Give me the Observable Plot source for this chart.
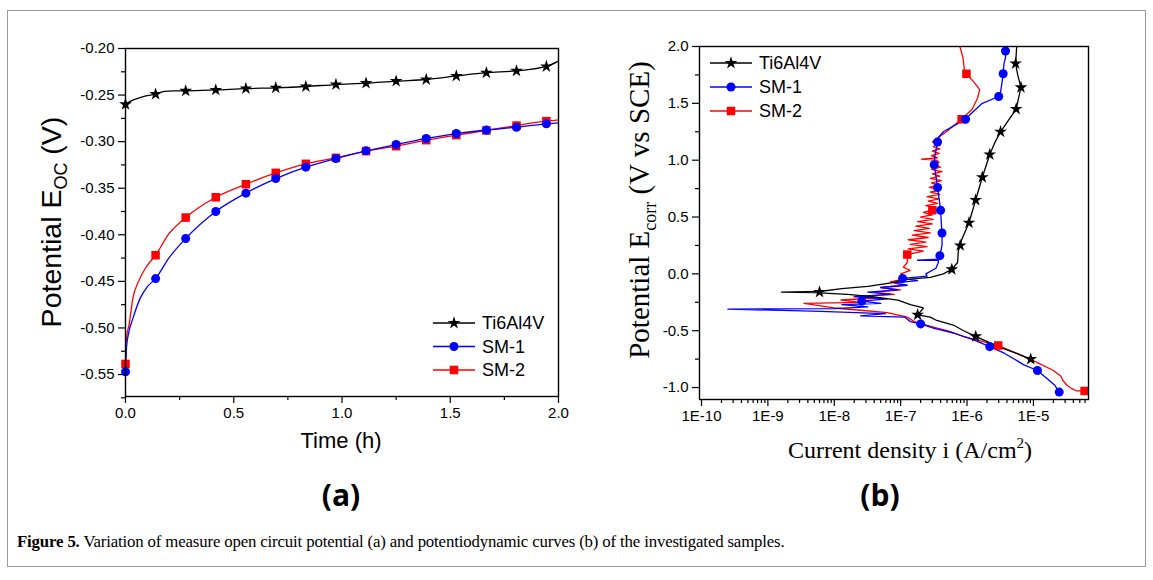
<!DOCTYPE html>
<html><head><meta charset="utf-8">
<script src="https://cdn.jsdelivr.net/npm/d3@7"></script>
<script src="https://cdn.jsdelivr.net/npm/@observablehq/plot@0.6"></script>
<style>
body{margin:0;background:#fff;}
#fig{position:relative;width:1153px;height:580px;background:#fff;overflow:hidden;}
#frame{position:absolute;left:7px;top:10px;width:1139px;height:557px;border:1.5px solid #9a9a9a;box-sizing:border-box;z-index:5;pointer-events:none;}
.panel{position:absolute;top:0;}
.tag{position:absolute;font-family:"Open Sans","Liberation Sans",sans-serif;font-weight:bold;font-size:30px;transform:translateX(-50%);}
#cap{position:absolute;left:17px;top:532px;font-family:"Liberation Serif","DejaVu Serif",serif;font-size:16.8px;letter-spacing:-0.15px;}
</style></head>
<body><div id="fig">
<div class="panel" id="pa" style="left:0"></div>
<div class="panel" id="pb" style="left:580px"></div>
<div class="tag" style="left:341px;top:474px">(a)</div>
<div class="tag" style="left:880px;top:474px">(b)</div>
<div id="cap"><b>Figure 5.</b> Variation of measure open circuit potential (a) and potentiodynamic curves (b) of the investigated samples.</div>
<div id="frame"></div>
</div>
<script>
// ---------- Panel (a): open circuit potential ----------
const seriesNames = ["Ti6Al4V", "SM-1", "SM-2"];
const seriesColors = ["#000000", "#0000ff", "#ff0000"];
const seriesSymbols = ["star", "circle", "square"];

const tiTime = [0, 0.02, 0.05, 0.09, 0.139, 0.18, 0.22, 0.278, 0.417, 0.556, 0.694, 0.833, 0.972, 1.111, 1.25, 1.389, 1.528, 1.667, 1.806, 1.944, 2.0];
const tiEoc  = [-0.260, -0.257, -0.254, -0.251, -0.249, -0.246, -0.2455, -0.2455, -0.2445, -0.243, -0.2422, -0.2408, -0.2387, -0.2372, -0.235, -0.2333, -0.2295, -0.226, -0.224, -0.2193, -0.2136];
const sm1Time = [0, 0.005, 0.015, 0.034, 0.068, 0.1, 0.139, 0.2, 0.278, 0.417, 0.556, 0.694, 0.833, 0.972, 1.111, 1.25, 1.389, 1.528, 1.667, 1.806, 1.944, 2.0];
const sm1Eoc  = [-0.547, -0.52, -0.505, -0.49, -0.468, -0.456, -0.447, -0.425, -0.404, -0.375, -0.3553, -0.3396, -0.3274, -0.3181, -0.3099, -0.3031, -0.2966, -0.2913, -0.2875, -0.2845, -0.2809, -0.2798];
const sm2Time = [0, 0.005, 0.017, 0.034, 0.06, 0.1, 0.139, 0.2, 0.278, 0.417, 0.556, 0.694, 0.833, 0.972, 1.111, 1.25, 1.389, 1.528, 1.667, 1.806, 1.944, 2.0];
const sm2Eoc  = [-0.5386, -0.51, -0.496, -0.468, -0.45, -0.433, -0.4219, -0.399, -0.3815, -0.3597, -0.3457, -0.3335, -0.3238, -0.3174, -0.3102, -0.3049, -0.2984, -0.293, -0.288, -0.2827, -0.278, -0.2766];
const ocpMarkerTime = [0, 0.139, 0.278, 0.417, 0.556, 0.694, 0.833, 0.972, 1.111, 1.25, 1.389, 1.528, 1.667, 1.806, 1.944];

const timeTicks = [0, 0.5, 1.0, 1.5, 2.0];
const timeMinorTicks = [0.25, 0.75, 1.25, 1.75];
const eocTicks = [-0.55, -0.50, -0.45, -0.40, -0.35, -0.30, -0.25, -0.20];
const eocMinorTicks = [-0.575, -0.525, -0.475, -0.425, -0.375, -0.325, -0.275, -0.225];

// ---------- Panel (b): potentiodynamic curves ----------
const tiPolE = [-0.77, -0.75, -0.70, -0.65, -0.60, -0.55, -0.50, -0.45, -0.41, -0.38, -0.36, -0.33, -0.30, -0.27, -0.23, -0.20, -0.18, -0.165, -0.16, -0.155, -0.13, -0.11, -0.08, -0.05, -0.03, 0.0, 0.04, 0.10, 0.20, 0.30, 0.45, 0.65, 0.85, 1.05, 1.15, 1.25, 1.35, 1.45, 1.55, 1.64, 1.75, 1.85, 2.0];
const tiPolI = [1.02e-5, 9.1e-6, 5.6e-6, 3.3e-6, 2.1e-6, 1.35e-6, 8.9e-7, 6.2e-7, 3.5e-7, 2.8e-7, 1.8e-7, 2.0e-7, 2.2e-7, 1.4e-7, 9.1e-8, 3.7e-8, 1.6e-8, 5e-9, 1.6e-9, 6e-9, 1.3e-8, 3.2e-8, 7.2e-8, 1.15e-7, 2.8e-7, 4.4e-7, 5.9e-7, 7.2e-7, 7.4e-7, 8.3e-7, 1.07e-6, 1.35e-6, 1.7e-6, 2.2e-6, 2.6e-6, 3.2e-6, 4.2e-6, 5.5e-6, 6.0e-6, 6.5e-6, 5.8e-6, 5.4e-6, 5.6e-6];

const sm1PolE = [-1.04, -0.98, -0.92, -0.85, -0.80, -0.70, -0.64, -0.58, -0.52, -0.48, -0.44, -0.42, -0.38, -0.37, -0.35, -0.33, -0.31, -0.305, -0.29, -0.27, -0.26, -0.24, -0.22, -0.20, -0.18, -0.16, -0.14, -0.12, -0.10, -0.08, -0.06, -0.04, -0.02, 0.0, 0.05, 0.10, 0.12, 0.12, 0.13, 0.16, 0.25, 0.36, 0.45, 0.56, 0.66, 0.76, 0.86, 0.96, 1.05, 1.16, 1.20, 1.25, 1.30, 1.36, 1.42, 1.50, 1.56, 1.60, 1.70, 1.76, 1.85, 1.90, 1.96];
const sm1PolI = [2.45e-5, 2.1e-5, 1.6e-5, 1.15e-5, 7.2e-6, 3.7e-6, 2.2e-6, 1.26e-6, 6.3e-7, 3.2e-7, 2.0e-7, 1.4e-7, 1.15e-7, 2.5e-8, 5.9e-8, 6.2e-9, 2.5e-10, 1e-8, 3.2e-8, 1.3e-8, 5e-8, 2.6e-8, 6.3e-8, 2e-8, 7e-8, 3.2e-8, 9e-8, 5e-8, 1.26e-7, 8e-8, 1.8e-7, 1.07e-7, 2.5e-7, 2.4e-7, 3.4e-7, 3.7e-7, 3.7e-7, 1.8e-7, 3.8e-7, 3.9e-7, 4.2e-7, 4.2e-7, 4.1e-7, 4.0e-7, 3.8e-7, 3.6e-7, 3.4e-7, 3.2e-7, 3.3e-7, 3.6e-7, 3.7e-7, 4.4e-7, 6.2e-7, 9.5e-7, 1.2e-6, 1.7e-6, 3.0e-6, 3.2e-6, 3.4e-6, 3.5e-6, 3.6e-6, 3.8e-6, 3.8e-6];

const sm2PolE = [-1.03, -1.03, -1.01, -0.98, -0.94, -0.90, -0.85, -0.78, -0.70, -0.63, -0.55, -0.50, -0.47, -0.42, -0.38, -0.34, -0.32, -0.30, -0.26, -0.25, -0.23, -0.21, -0.20, -0.18, -0.16, -0.14, -0.12, -0.10, -0.07, -0.04, 0.0, 0.03, 0.06, 0.10, 0.13, 0.17,
  0.20, 0.22, 0.24, 0.26, 0.28, 0.30, 0.32, 0.34, 0.36, 0.38, 0.40, 0.42, 0.44, 0.46, 0.48, 0.50, 0.52, 0.54, 0.56,
  0.58, 0.60, 0.62, 0.64, 0.66, 0.68, 0.70, 0.72, 0.74, 0.76, 0.78, 0.80, 0.82, 0.84, 0.86, 0.88, 0.90, 0.92, 0.94, 0.96, 0.98, 1.00, 1.01, 1.02, 1.04, 1.06, 1.08, 1.10, 1.12, 1.14, 1.16, 1.18,
  1.20, 1.25, 1.30, 1.36, 1.45, 1.55, 1.62, 1.68, 1.76, 1.80, 1.90, 2.0];
const sm2PolI = [5.9e-5, 4.5e-5, 3.8e-5, 3.2e-5, 2.8e-5, 2.6e-5, 2.0e-5, 1.15e-5, 5.6e-6, 2.95e-6, 8.7e-7, 5e-7, 3.2e-7, 1.6e-7, 1.26e-7, 6.3e-8, 2.5e-8, 1e-8, 3.5e-9, 2.5e-8, 1.26e-8, 5e-8, 2e-8, 8e-8, 4e-8, 1e-7, 5e-8, 1.1e-7, 7e-8, 1.26e-7, 1e-7, 1.4e-7, 1.1e-7, 1.26e-7, 1.26e-7, 1.26e-7,
  2.2e-7, 1.3e-7, 2.5e-7, 1.4e-7, 2.4e-7, 1.3e-7, 2.6e-7, 1.5e-7, 2.8e-7, 1.6e-7, 2.7e-7, 1.7e-7, 3.0e-7, 1.8e-7, 3.1e-7, 2.0e-7, 3.0e-7, 2.2e-7, 3.0e-7,
  3.4e-7, 2.4e-7, 3.6e-7, 2.6e-7, 3.8e-7, 2.5e-7, 3.9e-7, 2.8e-7, 4.0e-7, 2.7e-7, 3.8e-7, 2.9e-7, 4.1e-7, 2.8e-7, 3.9e-7, 3.0e-7, 4.2e-7, 2.9e-7, 4.0e-7, 3.0e-7, 3.8e-7, 3.5e-7, 2.05e-7, 3.6e-7, 2.9e-7, 3.8e-7, 3.0e-7, 3.9e-7, 3.1e-7, 3.6e-7, 3.0e-7, 3.3e-7,
  3.7e-7, 4.9e-7, 6.2e-7, 8.3e-7, 1.2e-6, 1.45e-6, 1.55e-6, 1.3e-6, 9.8e-7, 9.1e-7, 8.7e-7, 7.8e-7];

const tiMarkE = [-0.75, -0.55, -0.36, -0.16, 0.04, 0.25, 0.45, 0.65, 0.85, 1.05, 1.25, 1.45, 1.64, 1.85];
const tiMarkI = [9.1e-6, 1.35e-6, 1.8e-7, 6e-9, 5.9e-7, 7.9e-7, 1.07e-6, 1.35e-6, 1.7e-6, 2.2e-6, 3.2e-6, 5.5e-6, 6.5e-6, 5.4e-6];
const sm1MarkE = [-1.04, -0.85, -0.64, -0.44, -0.24, -0.04, 0.16, 0.36, 0.56, 0.76, 0.96, 1.16, 1.36, 1.56, 1.76, 1.96];
const sm1MarkI = [2.45e-5, 1.15e-5, 2.2e-6, 2.0e-7, 2.6e-8, 1.07e-7, 3.9e-7, 4.2e-7, 4.0e-7, 3.6e-7, 3.2e-7, 3.6e-7, 9.5e-7, 3.0e-6, 3.5e-6, 3.8e-6];
const sm2MarkE = [-1.03, -0.63, 0.17, 0.56, 1.36, 1.76];
const sm2MarkI = [5.9e-5, 2.95e-6, 1.26e-7, 3e-7, 8.3e-7, 9.8e-7];

const currentTicks = [1e-10, 1e-9, 1e-8, 1e-7, 1e-6, 1e-5];
const currentTickLabels = ["1E-10", "1E-9", "1E-8", "1E-7", "1E-6", "1E-5"];
const potentialTicks = [-1.0, -0.5, 0.0, 0.5, 1.0, 1.5, 2.0];
const potentialMinorTicks = [-0.75, -0.25, 0.25, 0.75, 1.25, 1.75];

// ---------- helpers ----------
const zip = (xs, ys, name) => xs.map((x, i) => ({x, y: ys[i], name}));
const ocpLines = [zip(tiTime, tiEoc, "Ti6Al4V"), zip(sm1Time, sm1Eoc, "SM-1"), zip(sm2Time, sm2Eoc, "SM-2")];
const ocpMarkers = [
  zip(ocpMarkerTime, ocpMarkerTime.map(t => tiEoc[tiTime.indexOf(t)]), "Ti6Al4V"),
  zip(ocpMarkerTime, ocpMarkerTime.map(t => sm1Eoc[sm1Time.indexOf(t)]), "SM-1"),
  zip(ocpMarkerTime, ocpMarkerTime.map(t => sm2Eoc[sm2Time.indexOf(t)]), "SM-2")
];
const polLines = [zip(tiPolI, tiPolE, "Ti6Al4V"), zip(sm1PolI, sm1PolE, "SM-1"), zip(sm2PolI, sm2PolE, "SM-2")];
const polMarkers = [zip(tiMarkI, tiMarkE, "Ti6Al4V"), zip(sm1MarkI, sm1MarkE, "SM-1"), zip(sm2MarkI, sm2MarkE, "SM-2")];
const symR = [4.0, 4.5, 4.8];

function seriesMarks(lines, markers, curve) {
  const m = [];
  [2, 1, 0].forEach(k => {
    m.push(Plot.line(lines[k], {x: "x", y: "y", stroke: seriesColors[k], strokeWidth: 1.3, curve}));
  });
  [2, 1, 0].forEach(k => {
    m.push(Plot.dot(markers[k], {x: "x", y: "y", symbol: seriesSymbols[k], r: symR[k], fill: seriesColors[k], stroke: "none"}));
  });
  return m;
}

function addLegend(svg, x0, y0, dy) {
  const g = d3.select(svg).append("g").attr("font-family", "Liberation Sans, Arial, sans-serif").attr("font-size", 18).attr("text-anchor", "start");
  seriesNames.forEach((n, k) => {
    const y = y0 + k * dy;
    g.append("line").attr("x1", x0).attr("x2", x0 + 42).attr("y1", y).attr("y2", y).attr("stroke", seriesColors[k]).attr("stroke-width", 1.3);
    const sym = {star: d3.symbolStar, circle: d3.symbolCircle, square: d3.symbolSquare}[seriesSymbols[k]];
    g.append("path").attr("d", d3.symbol(sym, Math.PI * symR[k] * symR[k])()).attr("transform", `translate(${x0 + 21},${y})`).attr("fill", seriesColors[k]);
    g.append("text").attr("x", x0 + 49).attr("y", y).attr("dy", "0.36em").attr("text-anchor", "start").text(n);
  });
}

const axisStyle = {fontFamily: "Liberation Sans, Arial, sans-serif", fontSize: "15px", color: "black", background: "transparent", overflow: "visible"};

// ---------- Panel (a) ----------
const pa = Plot.plot({
  width: 580, height: 440, marginLeft: 125, marginRight: 22, marginTop: 48, marginBottom: 44,
  style: axisStyle,
  x: {domain: [0, 2]},
  y: {domain: [-0.5736, -0.20]},
  marks: [
    Plot.axisX({ticks: timeTicks, tickSize: 7, tickPadding: 4, tickFormat: d => d.toFixed(1), label: null, strokeWidth: 1.2}),
    Plot.axisX({ticks: timeMinorTicks, tickSize: 4, tickFormat: () => "", label: null, strokeWidth: 1.2}),
    Plot.axisY({ticks: eocTicks, tickSize: 7, tickPadding: 4, tickFormat: d => d.toFixed(2), label: null, strokeWidth: 1.2}),
    Plot.axisY({ticks: eocMinorTicks, tickSize: 4, tickFormat: () => "", label: null, strokeWidth: 1.2}),
    ...seriesMarks(ocpLines, ocpMarkers, "monotone-x"),
    Plot.frame({stroke: "black", strokeWidth: 1.4})
  ]
});
document.getElementById("pa").append(pa);
{
  const s = d3.select(pa);
  s.append("text").attr("x", 341).attr("y", 448).attr("text-anchor", "middle")
    .attr("font-family", "Liberation Sans, Arial, sans-serif").attr("font-size", 22).text("Time (h)");
  const t = s.append("text").attr("transform", "translate(61,222) rotate(-90)").attr("text-anchor", "middle")
    .attr("font-family", "Liberation Sans, Arial, sans-serif").attr("font-size", 28.5);
  t.append("tspan").text("Potential E");
  t.append("tspan").attr("font-size", 18).attr("dy", 6).text("OC");
  t.append("tspan").attr("dy", -6).text(" (V)");
  addLegend(pa, 433, 323, 23.5);
}

// ---------- Panel (b) ----------
const pb = Plot.plot({
  width: 573, height: 440, marginLeft: 119, marginRight: 65, marginTop: 46, marginBottom: 41,
  style: axisStyle,
  x: {type: "log", domain: [Math.pow(10, -10.03), Math.pow(10, -4.17)]},
  y: {domain: [-1.105, 2.0]},
  marks: [
    Plot.axisX({ticks: currentTicks, tickSize: 7, tickPadding: 4, tickFormat: d => currentTickLabels[currentTicks.indexOf(d)] ?? "", label: null, strokeWidth: 1.2}),
    Plot.axisX({ticks: d3.range(-10, -4).flatMap(e => d3.range(2, 10).map(m => m * Math.pow(10, e))).filter(v => v < Math.pow(10, -4.17)), tickSize: 4, tickFormat: () => "", label: null, strokeWidth: 1.2}),
    Plot.axisY({ticks: potentialTicks, tickSize: 7, tickPadding: 4, tickFormat: d => d.toFixed(1), label: null, strokeWidth: 1.2}),
    Plot.axisY({ticks: potentialMinorTicks, tickSize: 4, tickFormat: () => "", label: null, strokeWidth: 1.2}),
    ...seriesMarks(polLines, polMarkers, "linear"),
    Plot.frame({stroke: "black", strokeWidth: 1.4})
  ]
});
document.getElementById("pb").append(pb);
{
  const s = d3.select(pb);
  const xt = s.append("text").attr("x", 330).attr("y", 458).attr("text-anchor", "middle")
    .attr("font-family", "Liberation Serif, Times New Roman, serif").attr("font-size", 24);
  xt.append("tspan").text("Current density i (A/cm");
  xt.append("tspan").attr("font-size", 15).attr("dy", -10).text("2");
  xt.append("tspan").attr("dy", 10).text(")");
  const t = s.append("text").attr("transform", "translate(69,210) rotate(-90)").attr("text-anchor", "middle")
    .attr("font-family", "Liberation Serif, Times New Roman, serif").attr("font-size", 29);
  t.append("tspan").text("Potential E");
  t.append("tspan").attr("font-size", 18).attr("dy", 7).text("corr");
  t.append("tspan").attr("dy", -7).text(" (V vs SCE)");
  addLegend(pb, 130, 63, 24);
}
</script></body></html>
